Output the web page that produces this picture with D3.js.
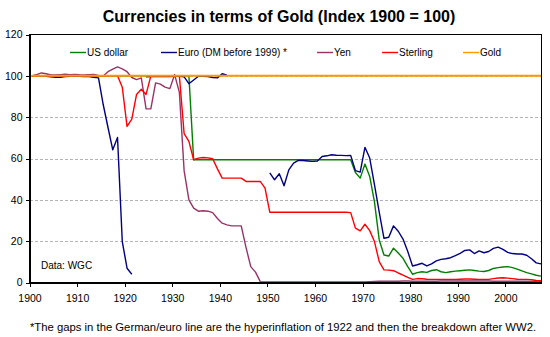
<!DOCTYPE html>
<html>
<head>
<meta charset="utf-8">
<script src="https://cdn.jsdelivr.net/npm/d3@7"></script>
<style>
  body { margin: 0; background: #fff; }
  svg text { font-family: "Liberation Sans", Arial, sans-serif; fill: #000; }
</style>
</head>
<body>
<script>
(function(){

//annual index values, one per year 1900-2007 (null = no quote)
var years = d3.range(1900, 2008);

var usDollar = [
    100, 100, 100, 100, 100, 100, 100, 100, 100, 100,
    100, 100, 100, 100, 100, 100, 100, 100, 100, 100,
    100, 100, 100, 100, 100, 100, 100, 100, 100, 100,
    100, 100, 100, 100, 59.4, 59.4, 59.4, 59.4, 59.4, 59.4,
    59.4, 59.4, 59.4, 59.4, 59.4, 59.4, 59.4, 59.4, 59.4, 59.4,
    59.4, 59.4, 59.4, 59.4, 59.4, 59.4, 59.4, 59.4, 59.4, 59.4,
    59.4, 59.4, 59.4, 59.4, 59.4, 59.4, 59.4, 59.4, 53.2, 50.5,
    57.3, 51.3, 39, 20.6, 13.3, 12.8, 16.6, 14.3, 11.7, 7.7,
    4.0, 4.8, 5.2, 4.9, 5.8, 6.2, 5.2, 4.8, 5.2, 5.5,
    5.7, 5.9, 6.1, 5.8, 5.5, 5.3, 5.8, 6.8, 7.2, 7.5,
    7.7, 7.2, 6.5, 5.6, 4.8, 4.2, 3.5, 3.1
];

var euroDm = [
    100, 100.3, 100, 99.8, 99.5, 99.3, 99.3, 99.6, 99.8, 99.8,
    99.8, 99.6, 99.7, 99.3, 99, 86, 75, 64.2, 70.2, 19.8,
    6.9, 4.0, null, null, 99.5, 99.6, 99.6, 99.8, 99.7, 99.6,
    99.8, 99.8, 99.5, 96.2, 98, 99.8, 99.8, 99.6, 99.2, 99,
    101, 100.3, null, null, null, null, null, null, null, null,
    53, 49.7, 52.6, 46.8, 54.5, 57.8, 59.1, 59, 58.8, 58.6,
    58.8, 61, 61.3, 61.8, 61.6, 61.5, 61.4, 61.5, 54.1, 53.4,
    65.4, 60.2, 47.3, 34, 21.4, 21.9, 27.4, 24.8, 21, 15,
    8.0, 8.6, 9.3, 8.0, 9.0, 10.5, 11.2, 11.5, 12.0, 13.0,
    14.1, 15.5, 15.8, 14.0, 15.3, 14.4, 15.0, 16.5, 17.1, 16.0,
    14.6, 14.0, 13.8, 13.8, 13.2, 11.5, 9.5, 9.0
];

var yen = [
    100, 100.6, 101.4, 101, 100.4, 100.4, 100.6, 100.8, 100.6, 100.7,
    100.5, 100.4, 100.6, 100.7, 100.2, 99.9, 102, 103.2, 104.3, 103.4,
    102, 99.2, 98.2, 99, 84, 84, 96.6, 96, 94.5, 93.8,
    100.6, 92, 54, 40, 36, 34.5, 34.7, 34.5, 33.8, 31,
    28.7, 27.9, 27.4, 27.4, 27.4, 17, 7.7, 5, 0.4, 0.3,
    0.3, 0.3, 0.3, 0.3, 0.3, 0.3, 0.3, 0.3, 0.3, 0.3,
    0.3, 0.3, 0.3, 0.3, 0.3, 0.3, 0.3, 0.3, 0.3, 0.3,
    0.3, 0.4, 0.5, 0.6, 0.6, 0.6, 0.6, 0.6, 0.7, 0.7,
    0.6, 0.6, 0.6, 0.6, 0.6, 0.6, 0.7, 0.7, 0.7, 0.7,
    0.7, 0.7, 0.7, 0.7, 0.7, 0.7, 0.7, 0.6, 0.6, 0.6,
    0.6, 0.6, 0.6, 0.6, 0.6, 0.5, 0.5, 0.5
];

var sterling = [
    100, 100, 100, 100, 100, 100, 100, 100, 100, 100,
    100, 100, 100, 100, 100, 100, 100, 100, 100, 94.5,
    75.5, 79, 91, 93.5, 91, 100, 100, 100, 100, 100,
    100, 100, 72, 68.3, 59.4, 60.2, 60.5, 60.3, 59.9, 55,
    50.5, 50.5, 50.5, 50.5, 50.5, 48.9, 48.9, 48.9, 48.9, 45.7,
    34, 34, 34, 34, 34, 34, 34, 34, 34, 34,
    34, 34, 34, 34, 34, 34, 34, 33.8, 26.3, 25,
    28.2, 25.1, 19.8, 10.1, 6.1, 6.0, 5.7, 4.6, 3.6, 2.5,
    1.5, 1.9, 1.8, 1.6, 1.5, 1.5, 1.5, 1.5, 1.5, 1.5,
    1.6, 1.7, 1.7, 1.6, 1.5, 1.5, 1.5, 1.9, 2.2, 2.3,
    2.1, 1.9, 1.6, 1.5, 1.5, 1.3, 1.0, 0.9
];

var gold = [
    100, 100, 100, 100, 100, 100, 100, 100, 100, 100,
    100, 100, 100, 100, 100, 100, 100, 100, 100, 100,
    100, 100, 100, 100, 100, 100, 100, 100, 100, 100,
    100, 100, 100, 100, 100, 100, 100, 100, 100, 100,
    100, 100, 100, 100, 100, 100, 100, 100, 100, 100,
    100, 100, 100, 100, 100, 100, 100, 100, 100, 100,
    100, 100, 100, 100, 100, 100, 100, 100, 100, 100,
    100, 100, 100, 100, 100, 100, 100, 100, 100, 100,
    100, 100, 100, 100, 100, 100, 100, 100, 100, 100,
    100, 100, 100, 100, 100, 100, 100, 100, 100, 100,
    100, 100, 100, 100, 100, 100, 100, 100
];

var seriesNames = ["US dollar", "Euro (DM before 1999) *", "Yen", "Sterling", "Gold"];
var seriesColors = ["#008000", "#000080", "#993366", "#FF0000", "#FF9900"];
var yTicks = [0, 20, 40, 60, 80, 100, 120];
var xTicks = [1900, 1910, 1920, 1930, 1940, 1950, 1960, 1970, 1980, 1990, 2000];

window.onload = drawChart();

function drawChart(){
    var width = 550,
        height = 337;

    //plot area edges
    var left = 29.5, right = 541, top = 34.5, bottom = 282.5;

    var svg = d3.select("body")
        .append("svg")
        .attr("width", width)
        .attr("height", height);

    var x = d3.scaleLinear()
        .domain([1900, 2007.5])
        .range([left, right]);

    var y = d3.scaleLinear()
        .domain([0, 120])
        .range([bottom, top]);

    //title
    svg.append("text")
        .attr("x", 279)
        .attr("y", 22)
        .attr("text-anchor", "middle")
        .style("font-size", "16px")
        .style("font-weight", "bold")
        .text("Currencies in terms of Gold (Index 1900 = 100)");

    //dashed horizontal gridlines
    svg.append("g")
        .selectAll("line")
        .data(yTicks.filter(function(d){ return d > 0 && d < 120; }))
        .enter()
        .append("line")
        .attr("x1", left)
        .attr("x2", right)
        .attr("y1", function(d){ return Math.round(y(d)) + 0.5; })
        .attr("y2", function(d){ return Math.round(y(d)) + 0.5; })
        .attr("stroke", "#B4B4B4")
        .attr("stroke-dasharray", "3,2")
        .attr("shape-rendering", "crispEdges");

    //one line per currency, values plotted at mid-year
    var line = d3.line()
        .defined(function(d){ return d != null; })
        .x(function(d, i){ return x(years[i] + 0.5); })
        .y(function(d){ return y(d); });

    var allSeries = [usDollar, euroDm, yen, sterling, gold];

    svg.append("g")
        .selectAll("path")
        .data(allSeries)
        .enter()
        .append("path")
        .attr("d", line)
        .attr("fill", "none")
        .attr("stroke", function(d, i){ return seriesColors[i]; })
        .attr("stroke-width", function(d, i){ return i == 4 ? 2 : 1.4; })
        .attr("stroke-linejoin", "round");

    //plot frame
    svg.append("rect")
        .attr("x", left)
        .attr("y", top)
        .attr("width", right - left)
        .attr("height", bottom - top)
        .attr("fill", "none")
        .attr("stroke", "#000")
        .attr("shape-rendering", "crispEdges");

    //axes
    var yAxis = svg.append("g")
        .attr("transform", "translate(" + left + ",0)")
        .call(d3.axisLeft(y).tickValues(yTicks).tickSize(4).tickSizeOuter(0).tickPadding(3));

    var xAxis = svg.append("g")
        .attr("transform", "translate(0," + bottom + ")")
        .call(d3.axisBottom(x).tickValues(xTicks).tickFormat(d3.format("d")).tickSize(4).tickSizeOuter(0).tickPadding(8));

    [yAxis, xAxis].forEach(function(ax){
        ax.selectAll("path, line").attr("stroke", "#000").attr("shape-rendering", "crispEdges");
        ax.selectAll("text")
            .style("font-family", "'Liberation Sans', Arial, sans-serif")
            .style("font-size", "10.5px")
            .attr("fill", "#000");
    });

    //legend along the top of the plot
    var legendX = [70, 161, 317, 382, 463];
    var legend = svg.append("g")
        .selectAll("g")
        .data(seriesNames)
        .enter()
        .append("g")
        .attr("transform", function(d, i){ return "translate(" + legendX[i] + ",52.5)"; });

    legend.append("line")
        .attr("x1", 0)
        .attr("x2", 16)
        .attr("stroke", function(d, i){ return seriesColors[i]; })
        .attr("stroke-width", 1.4);

    legend.append("text")
        .attr("x", 17)
        .attr("y", 3.5)
        .style("font-size", "10px")
        .text(function(d){ return d; });

    //source note inside the plot
    svg.append("text")
        .attr("x", 41)
        .attr("y", 269)
        .style("font-size", "10px")
        .text("Data: WGC");

    //footnote
    svg.append("text")
        .attr("x", 283)
        .attr("y", 331)
        .attr("text-anchor", "middle")
        .style("font-size", "11.3px")
        .text("*The gaps in the German/euro line are the hyperinflation of 1922 and then the breakdown after WW2.");
}

})();
</script>
</body>
</html>
